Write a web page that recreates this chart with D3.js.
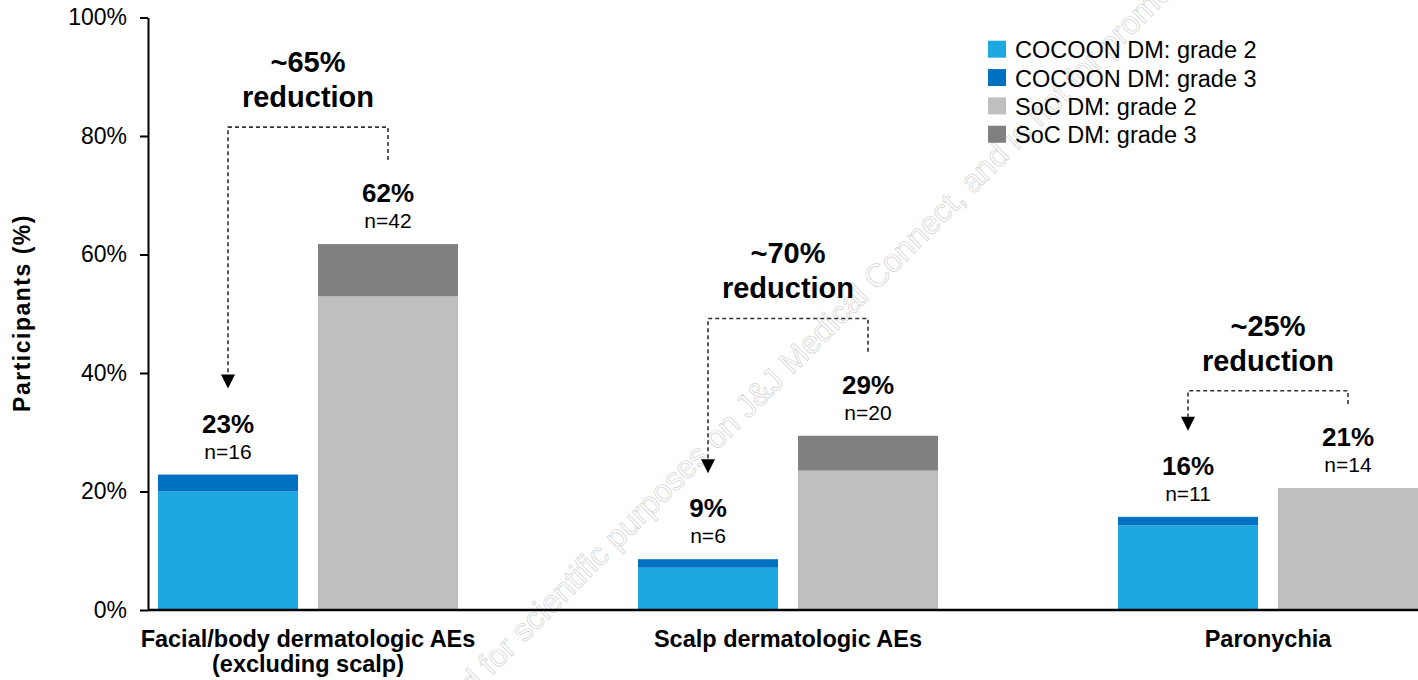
<!DOCTYPE html>
<html>
<head>
<meta charset="utf-8">
<script src="https://cdn.jsdelivr.net/npm/d3@7"></script>
<style>
  html, body { margin: 0; padding: 0; background: #fff; }
  svg { display: block; font-family: "Liberation Sans", Arial, Helvetica, sans-serif; }
</style>
</head>
<body>
<svg id="chart" width="1418" height="680"></svg>
<script>
// Grade 2 and grade 3 dermatologic AEs by arm (% of participants)
const categories = ["Facial/body dermatologic AEs (excluding scalp)", "Scalp dermatologic AEs", "Paronychia"];
const categoryLines = [["Facial/body dermatologic AEs", "(excluding scalp)"], ["Scalp dermatologic AEs"], ["Paronychia"]];
const arms = ["COCOON DM", "SoC DM"];
const cocoonGrade2 = [20.00, 7.14, 14.29];
const cocoonGrade3 = [2.86, 1.43, 1.43];
const socGrade2 = [52.94, 23.53, 20.59];
const socGrade3 = [8.82, 5.88, 0];
const cocoonN = [16, 6, 11];
const socN = [42, 20, 14];
const reductions = ["~65%", "~70%", "~25%"];
const yTicks = [0, 20, 40, 60, 80, 100];
const legendLabels = ["COCOON DM: grade 2", "COCOON DM: grade 3", "SoC DM: grade 2", "SoC DM: grade 3"];

// Height (axis units) of each dashed comparison bracket
const bracketLevels = [81.5, 49.2, 37.0];

const colors = {
  "COCOON DM": ["#1ea8e0", "#0070c0"],
  "SoC DM": ["#bfbfbf", "#808080"]
};
const legendColors = ["#1ea8e0", "#0070c0", "#bfbfbf", "#808080"];

const svg = d3.select("#chart");
const W = 1418, H = 680;

const y = d3.scaleLinear().domain([0, 100]).range([610, 17.5]);
const x0 = d3.scaleBand().domain(categories).range([68, 1508]).padding(0);
const x1 = d3.scaleBand().domain(arms).range([90, 390]).paddingInner(0.125).paddingOuter(0);

const armData = {
  "COCOON DM": { g2: cocoonGrade2, g3: cocoonGrade3, n: cocoonN },
  "SoC DM": { g2: socGrade2, g3: socGrade3, n: socN }
};

// Faint diagonal notice behind the chart
const wmText = "This material is provided for scientific purposes on J&J Medical Connect, and is not for promotional use.";
const wmPrefix = "This material is provided for ";
const wmFont = 32;
const probe = svg.append("text").attr("font-size", wmFont).text(wmPrefix);
const prefixLen = probe.node().getComputedTextLength();
probe.remove();
svg.append("text")
  .attr("transform", "translate(518,650) rotate(-45)")
  .attr("x", -prefixLen)
  .attr("font-size", wmFont)
  .attr("fill", "none")
  .attr("stroke", "#d2d2d2")
  .attr("stroke-width", 0.7)
  .text(wmText);

// Y axis
const yAxis = svg.append("g")
  .attr("transform", "translate(148,0)")
  .call(d3.axisLeft(y).tickValues(yTicks).tickFormat(d => d + "%").tickSize(8).tickSizeOuter(0).tickPadding(13));
yAxis.select(".domain").attr("stroke", "#000").attr("stroke-width", 2);
yAxis.selectAll(".tick line").attr("stroke", "#000").attr("stroke-width", 2);
yAxis.selectAll(".tick text").attr("font-size", 23).attr("fill", "#000")
  .attr("font-family", "'Liberation Sans', Arial, sans-serif");

svg.append("text")
  .attr("transform", "translate(30,313) rotate(-90)")
  .attr("text-anchor", "middle")
  .attr("font-size", 23)
  .attr("font-weight", "bold")
  .attr("letter-spacing", 1.5)
  .text("Participants (%)");

// Stacked bars
const groups = svg.append("g").selectAll("g")
  .data(categories)
  .join("g")
  .attr("transform", c => `translate(${x0(c)},0)`);

categories.forEach((c, i) => {
  const g = groups.filter(d => d === c);
  arms.forEach(arm => {
    const a = armData[arm];
    const segs = [[0, a.g2[i]], [a.g2[i], a.g2[i] + a.g3[i]]];
    segs.forEach((s, k) => {
      if (s[1] - s[0] <= 0) return;
      g.append("rect")
        .attr("x", x1(arm))
        .attr("width", x1.bandwidth())
        .attr("y", y(s[1]))
        .attr("height", y(s[0]) - y(s[1]))
        .attr("fill", colors[arm][k]);
    });
    const total = a.g2[i] + a.g3[i];
    const cx = x1(arm) + x1.bandwidth() / 2;
    const top = y(total);
    g.append("text")
      .attr("x", cx).attr("y", top - 16)
      .attr("text-anchor", "middle")
      .attr("font-size", 21)
      .text("n=" + a.n[i]);
    g.append("text")
      .attr("x", cx).attr("y", top - 42)
      .attr("text-anchor", "middle")
      .attr("font-size", 26)
      .attr("font-weight", "bold")
      .text(Math.round(total) + "%");
  });

  // Dashed bracket from the SoC bar down to the COCOON bar
  const cocoonTop = y(cocoonGrade2[i] + cocoonGrade3[i]);
  const socTop = y(socGrade2[i] + socGrade3[i]);
  const xl = x1("COCOON DM") + x1.bandwidth() / 2;
  const xr = x1("SoC DM") + x1.bandwidth() / 2;
  const yTop = y(bracketLevels[i]);
  const yRight = socTop - 42 - 42;
  const yTip = cocoonTop - 42 - 44;
  const headH = 14, headW = 14;
  g.append("path")
    .attr("d", `M${xr},${yRight} V${yTop} H${xl} V${yTip - headH}`)
    .attr("fill", "none")
    .attr("stroke", "#333")
    .attr("stroke-width", 1.6)
    .attr("stroke-dasharray", "4,3");
  g.append("path")
    .attr("d", `M${xl - headW / 2},${yTip - headH} L${xl + headW / 2},${yTip - headH} L${xl},${yTip} Z`)
    .attr("fill", "#000");

  const cxm = (xl + xr) / 2;
  g.append("text")
    .attr("x", cxm).attr("y", yTop - 20)
    .attr("text-anchor", "middle")
    .attr("font-size", 29)
    .attr("font-weight", "bold")
    .text("reduction");
  g.append("text")
    .attr("x", cxm).attr("y", yTop - 55)
    .attr("text-anchor", "middle")
    .attr("font-size", 29)
    .attr("font-weight", "bold")
    .text(reductions[i]);
});

// X axis
const xAxis = svg.append("g")
  .attr("transform", `translate(0,${y(0)})`)
  .call(d3.axisBottom(x0).tickSize(0).tickPadding(0));
xAxis.select(".domain").remove();
xAxis.selectAll(".tick text")
  .attr("font-size", 23.5)
  .attr("font-weight", "bold")
  .attr("fill", "#000")
  .attr("font-family", "'Liberation Sans', Arial, sans-serif")
  .attr("dy", null)
  .each(function (c) {
    const t = d3.select(this);
    const lines = categoryLines[categories.indexOf(c)];
    t.text(null);
    lines.forEach((l, j) => {
      t.append("tspan").attr("x", 0).attr("y", 37 + j * 25).text(l);
    });
  });
svg.append("line")
  .attr("x1", 148).attr("x2", W)
  .attr("y1", y(0)).attr("y2", y(0))
  .attr("stroke", "#000").attr("stroke-width", 2.5);

// Legend
const legend = svg.append("g").attr("transform", "translate(988,40.7)");
legendLabels.forEach((lab, k) => {
  const row = legend.append("g").attr("transform", `translate(0,${k * 28.35})`);
  row.append("rect").attr("width", 18).attr("height", 17).attr("fill", legendColors[k]);
  row.append("text").attr("x", 27).attr("y", 17.5).attr("font-size", 23.5).text(lab);
});
</script>
</body>
</html>
